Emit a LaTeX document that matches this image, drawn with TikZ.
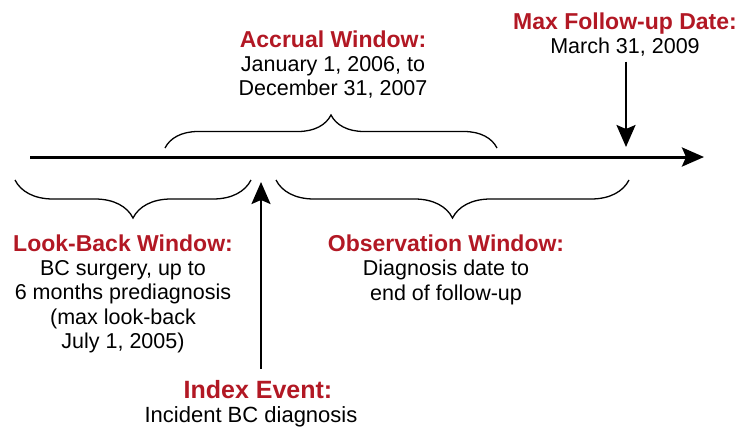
\documentclass[tikz,border=0pt]{standalone}
\usepackage{fontspec}
\setmainfont{Liberation Sans}
\usetikzlibrary{positioning, arrows.meta, decorations.pathreplacing}
\definecolor{headred}{RGB}{178,24,36}

\begin{document}
\begin{tikzpicture}[
    x=1pt, y=-1pt,
    head/.style = {font=\fontsize{23}{25}\selectfont\bfseries, text=headred, inner sep=0pt, anchor=base},
    body/.style = {font=\fontsize{21.5}{24.5}\selectfont, align=center, inner sep=0pt, anchor=north},
    winbrace/.style = {decorate, decoration={brace, amplitude=#1}, line width=1.3pt},
    pointer/.style = {-{Stealth[length=22pt, width=19pt, inset=4pt]}, line width=2.3pt}
]
\useasboundingbox (0,0) rectangle (743,426);

% time line
\coordinate (start) at (30,157);
\coordinate (end) at (704,157);
\draw[pointer, line width=3pt] (start) -- (end);

% labels
\node[head] (maxfu) at (625,29) {Max Follow-up Date:};
\node[body] (march) at ([yshift=-9pt]maxfu.base) {March 31, 2009};

\node[head] (accrual) at (333,47) {Accrual Window:};
\node[body] (accrualtxt) at ([yshift=-9pt]accrual.base) {January 1, 2006, to\\December 31, 2007};

\node[head] (lookback) at (123,251) {Look-Back Window:};
\node[body] (lookbacktxt) at ([yshift=-9pt]lookback.base) {BC surgery, up to\\6 months prediagnosis\\(max look-back\\July 1, 2005)};

\node[head] (observ) at (446,251) {Observation Window:};
\node[body] (observtxt) at ([yshift=-9pt]observ.base) {Diagnosis date to\\end of follow-up};

\node[head, font=\fontsize{25}{27}\selectfont\bfseries] (index) at (258,398) {Index Event:};
\node[body, font=\fontsize{22}{24.5}\selectfont] (indextxt) at ([xshift=-7pt, yshift=-8pt]index.base) {Incident BC diagnosis};

% windows
\draw[winbrace=33] (165,148) -- (497,148);
\draw[winbrace=38] (251,180) -- (15,180);
\draw[winbrace=38] (629,180) -- (276,180);

% events
\coordinate (maxpt) at (626,147);
\coordinate (indexpt) at (261,182);
\draw[pointer] (march.south -| maxpt) ++(0,5) -- (maxpt);
\draw[pointer] (index.north -| indexpt) ++(0,-11) -- (indexpt);

\end{tikzpicture}
\end{document}
